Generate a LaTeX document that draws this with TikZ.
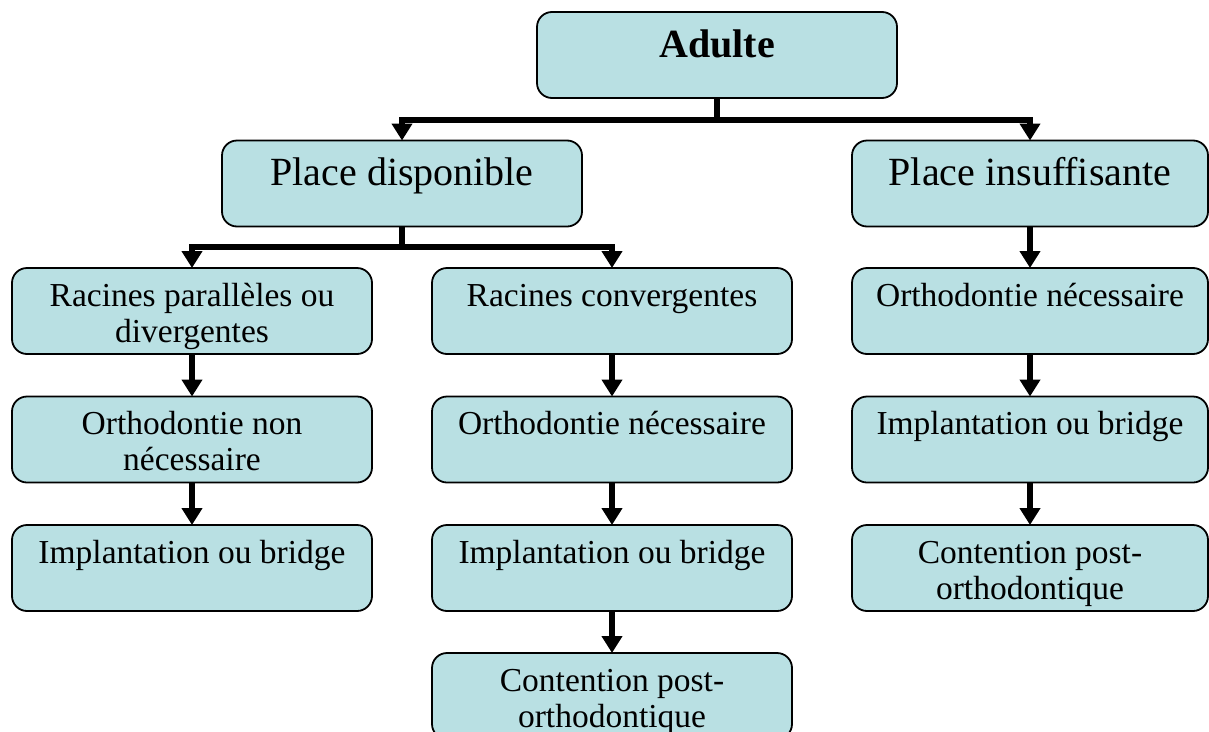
\documentclass[tikz,border=0pt]{standalone}
\usepackage{fontspec}
\setmainfont{Liberation Serif}
\usetikzlibrary{arrows.meta}
\definecolor{boxfill}{RGB}{185,224,227}
\tikzset{
  box/.style={draw=black, line width=1.8pt, fill=boxfill, rounded corners=15pt,
    minimum height=86pt, inner sep=0pt, outer sep=0pt},
  wbox/.style={box, minimum width=360pt},
  rbox/.style={box, minimum width=356pt},
  lbl/.style={anchor=base, inner sep=0pt, font=\fontsize{33.5}{36}\selectfont},
  biglbl/.style={anchor=base, inner sep=0pt, font=\fontsize{40}{44}\selectfont},
  conn/.style={line width=6pt, line join=miter, -{Triangle[width=20pt,length=17pt]}},
  bar/.style={line width=6pt, line join=miter}
}
\newcommand{\twol}[2]{\begin{tabular}[t]{@{}c@{}}#1\\#2\end{tabular}}
\begin{document}
\begin{tikzpicture}[x=1pt,y=-1pt]
\useasboundingbox (0,0) rectangle (1209,731);
\clip (0,0) rectangle (1209,731);
% boxes
\node[wbox] (adulte) at (717,55) {};
\node[wbox] (pd) at (402,183.5) {};
\node[rbox] (pi) at (1030,183.5) {};
\node[wbox] (r1) at (192,311) {};
\node[wbox] (r2) at (612,311) {};
\node[rbox] (r3) at (1030,311) {};
\node[wbox] (o1) at (192,439.5) {};
\node[wbox] (o2) at (612,439.5) {};
\node[rbox] (o3) at (1030,439.5) {};
\node[wbox] (i1) at (192,568) {};
\node[wbox] (i2) at (612,568) {};
\node[rbox] (c3) at (1030,568) {};
\node[wbox] (c2) at (612,696) {};
% labels
\node[biglbl, font=\fontsize{40}{44}\selectfont\bfseries] (tadulte) at ([yshift=-45pt]adulte.north) {Adulte};
\node[biglbl] (tpd) at ([yshift=-45pt]pd.north) {Place disponible};
\node[biglbl] (tpi) at ([yshift=-45pt]pi.north) {Place insuffisante};
\node[lbl] (tr1) at ([yshift=-38pt]r1.north) {\twol{Racines parallèles ou}{divergentes}};
\node[lbl] (tr2) at ([yshift=-38pt]r2.north) {Racines convergentes};
\node[lbl] (tr3) at ([yshift=-38pt]r3.north) {Orthodontie nécessaire};
\node[lbl] (to1) at ([yshift=-38pt]o1.north) {\twol{Orthodontie non}{nécessaire}};
\node[lbl] (to2) at ([yshift=-38pt]o2.north) {Orthodontie nécessaire};
\node[lbl] (to3) at ([yshift=-38pt]o3.north) {Implantation ou bridge};
\node[lbl] (ti1) at ([yshift=-38pt]i1.north) {Implantation ou bridge};
\node[lbl] (ti2) at ([yshift=-38pt]i2.north) {Implantation ou bridge};
\node[lbl] (tc3) at ([yshift=-38pt]c3.north) {\twol{Contention post-}{orthodontique}};
\node[lbl] (tc2) at ([yshift=-38pt]c2.north) {\twol{Contention post-}{orthodontique}};
% connectors
\coordinate (j1) at (717,120);
\coordinate (j2) at (402,247);
\draw[bar] (adulte.south) -- (j1);
\draw[conn] (j1) -| (pd.north);
\draw[conn] (j1) -| (pi.north);
\draw[bar] (pd.south) -- (j2);
\draw[conn] (j2) -| (r1.north);
\draw[conn] (j2) -| (r2.north);
\draw[conn] (pi.south) -- (r3.north);
\draw[conn] (r1.south) -- (o1.north);
\draw[conn] (o1.south) -- (i1.north);
\draw[conn] (r2.south) -- (o2.north);
\draw[conn] (o2.south) -- (i2.north);
\draw[conn] (i2.south) -- (c2.north);
\draw[conn] (r3.south) -- (o3.north);
\draw[conn] (o3.south) -- (c3.north);
\end{tikzpicture}
\end{document}
